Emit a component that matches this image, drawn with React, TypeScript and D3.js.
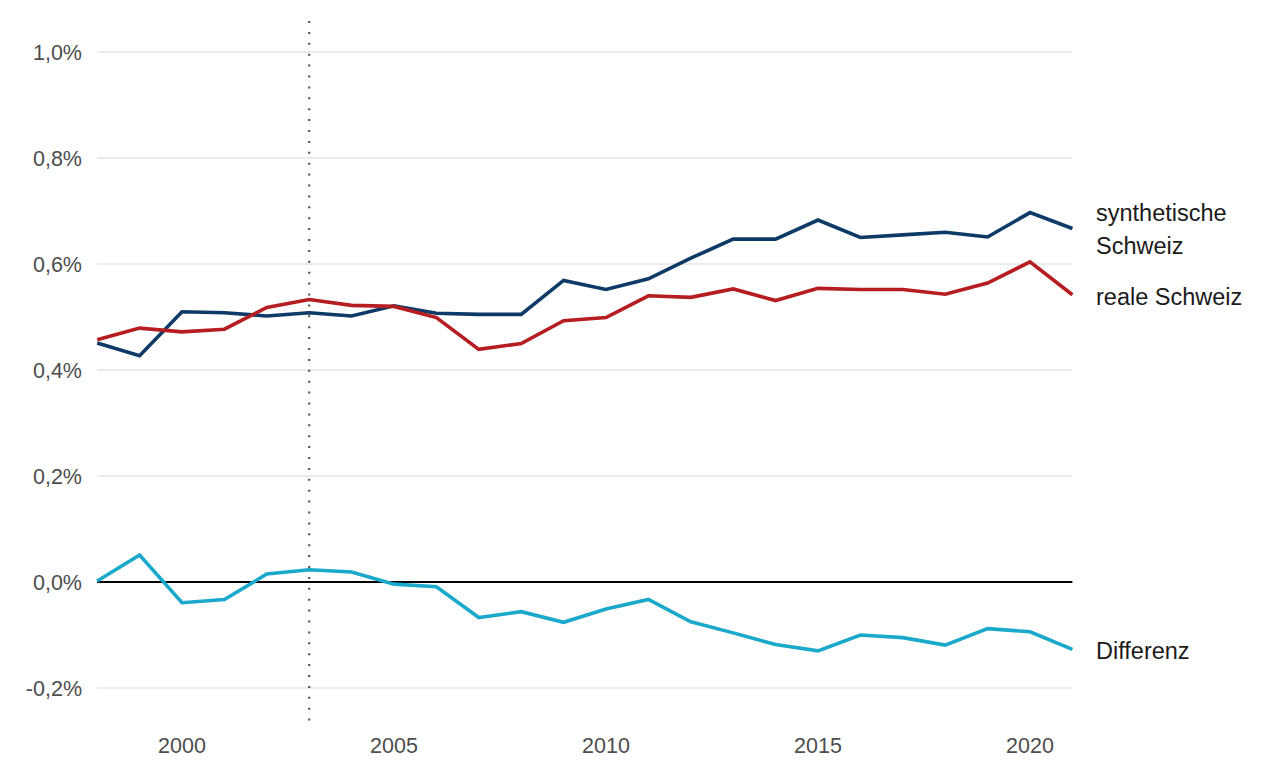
import React, { useEffect } from "react";
import * as d3 from "d3";

const years = d3.range(1998, 2022);
const synthetic = [0.451, 0.427, 0.510, 0.508, 0.502, 0.508, 0.502, 0.521, 0.507, 0.505, 0.505, 0.569, 0.552, 0.572, 0.611, 0.647, 0.647, 0.683, 0.650, 0.655, 0.660, 0.651, 0.697, 0.667];
const real = [0.457, 0.479, 0.472, 0.477, 0.518, 0.533, 0.522, 0.520, 0.499, 0.439, 0.450, 0.493, 0.499, 0.540, 0.537, 0.553, 0.531, 0.554, 0.552, 0.552, 0.543, 0.564, 0.604, 0.542];
const difference = [0.002, 0.051, -0.039, -0.033, 0.015, 0.023, 0.019, -0.004, -0.009, -0.067, -0.056, -0.076, -0.051, -0.033, -0.075, -0.096, -0.118, -0.130, -0.100, -0.105, -0.119, -0.088, -0.094, -0.127];
const yTicks = [-0.2, 0, 0.2, 0.4, 0.6, 0.8, 1.0];
const xTicks = [2000, 2005, 2010, 2015, 2020];
const treatmentYear = 2003;

const W = 1264;
const H = 777;

export default function App() {
  useEffect(() => {
    document.body.style.margin = "0";
  }, []);

  const x = d3.scaleLinear().domain([1998, 2021]).range([97.2, 1072.4]);
  const y = d3.scaleLinear().domain([-0.2, 1.0]).range([688, 52]);
  const line = (vals: number[]) =>
    d3.line<number>().x((_, i) => x(years[i])).y((v) => y(v))(vals) || "";

  const series = [
    { vals: synthetic, color: "#0d3a66" },
    { vals: real, color: "#b51d20" },
    { vals: difference, color: "#1aa8cb" },
  ];

  const fmt = (v: number) => v.toFixed(1).replace(".", ",") + "%";
  const labelFont = "'Liberation Sans', Arial, sans-serif";

  return (
    <svg width={W} height={H} style={{ display: "block" }}>
      <rect width={W} height={H} fill="#fff" />
      {yTicks.map((t) => (
        <g key={t}>
          <line x1={x(1998)} x2={x(2021)} y1={y(t)} y2={y(t)} stroke="#ebebeb" strokeWidth={2} />
          <text x={82} y={y(t)} dy="0.36em" textAnchor="end" fontFamily={labelFont} fontSize={21.5} fill="#4d4d4d">
            {fmt(t)}
          </text>
        </g>
      ))}
      {xTicks.map((t) => (
        <text key={t} x={x(t)} y={753} textAnchor="middle" fontFamily={labelFont} fontSize={21.5} fill="#4d4d4d">
          {t}
        </text>
      ))}
      <line x1={x(1998)} x2={x(2021)} y1={y(0)} y2={y(0)} stroke="#000" strokeWidth={2} />
      <line x1={x(treatmentYear)} x2={x(treatmentYear)} y1={21} y2={722} stroke="#555" strokeWidth={2.2} strokeDasharray="2 8.9" />
      {series.map((s, i) => (
        <path key={i} d={line(s.vals)} fill="none" stroke={s.color} strokeWidth={3.6} strokeLinejoin="miter" />
      ))}
      <text x={1096} y={221} fontFamily={labelFont} fontSize={23.5} fill="#1a1a1a">synthetische</text>
      <text x={1096} y={254} fontFamily={labelFont} fontSize={23.5} fill="#1a1a1a">Schweiz</text>
      <text x={1096} y={305} fontFamily={labelFont} fontSize={23.5} fill="#1a1a1a">reale Schweiz</text>
      <text x={1096} y={659} fontFamily={labelFont} fontSize={23.5} fill="#1a1a1a">Differenz</text>
    </svg>
  );
}
